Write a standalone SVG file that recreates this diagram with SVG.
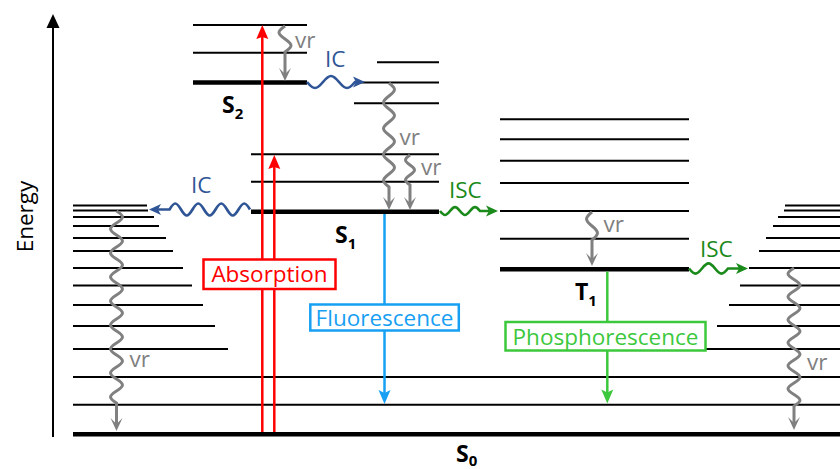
<svg xmlns="http://www.w3.org/2000/svg" width="840" height="469" viewBox="0 0 840 469">
<style>
.thin{stroke:#000;stroke-width:2;fill:none}
.thick{stroke:#000;stroke-width:4.5;fill:none}
.txt{font-family:"Open Sans","Liberation Sans",sans-serif;font-size:22.5px}
.state{font-family:"Open Sans","Liberation Sans",sans-serif;font-size:23px;font-weight:bold;fill:#000}
.sub{font-size:15px}
.vr{stroke:#808080;stroke-width:3;fill:none;marker-end:url(#mGray)}
.ic{stroke:#2f5597;stroke-width:2.7;fill:none;marker-end:url(#mIC)}
.isc{stroke:#1a8a1a;stroke-width:2.7;fill:none;marker-end:url(#mISC)}
.box{fill:#fff;stroke-width:2.5}
.boxt{font-family:"Open Sans","Liberation Sans",sans-serif;font-size:22.5px;text-anchor:middle}
.gray{fill:#808080}
.blue{fill:#2f5597}
.green{fill:#1a8a1a}
</style>
<defs>
<marker id="mGray" markerUnits="userSpaceOnUse" markerWidth="13" markerHeight="12" refX="6" refY="6" orient="auto" overflow="visible"><path d="M0,0 L13,6 L0,12 L6,6 Z" fill="#808080"/></marker>
<marker id="mIC" markerUnits="userSpaceOnUse" markerWidth="12" markerHeight="11" refX="3" refY="5.5" orient="auto" overflow="visible"><path d="M0,0 L12,5.5 L0,11 L3,5.5 Z" fill="#2f5597"/></marker>
<marker id="mISC" markerUnits="userSpaceOnUse" markerWidth="12" markerHeight="11" refX="3" refY="5.5" orient="auto" overflow="visible"><path d="M0,0 L12,5.5 L0,11 L3,5.5 Z" fill="#1a8a1a"/></marker>
<marker id="mRed" markerUnits="userSpaceOnUse" markerWidth="14" markerHeight="12" refX="4" refY="6" orient="auto" overflow="visible"><path d="M0,0 L14,6 L0,12 L2,6 Z" fill="#ff0000"/></marker>
<marker id="mBlue" markerUnits="userSpaceOnUse" markerWidth="14" markerHeight="12" refX="4" refY="6" orient="auto" overflow="visible"><path d="M0,0 L14,6 L0,12 L3,6 Z" fill="#17a0f3"/></marker>
<marker id="mGreen" markerUnits="userSpaceOnUse" markerWidth="14" markerHeight="12" refX="4" refY="6" orient="auto" overflow="visible"><path d="M0,0 L14,6 L0,12 L3,6 Z" fill="#3cc83c"/></marker>
<marker id="mAxis" markerUnits="userSpaceOnUse" markerWidth="14" markerHeight="13" refX="2" refY="6.5" orient="auto" overflow="visible"><path d="M0,0 L14,6.5 L0,13 Z" fill="#000"/></marker>
</defs>
<rect width="840" height="469" fill="#fff"/>

<g id="axis">
<path d="M53,437 L53,26" stroke="#000" stroke-width="2" fill="none" marker-end="url(#mAxis)"/>
<text class="txt" x="33" y="216.5" font-size="22" text-anchor="middle" transform="rotate(-90 33 216.5)">Energy</text>
</g>

<g id="S0">
<line class="thick" x1="73" y1="434.3" x2="840" y2="434.3"/>
<line class="thin" x1="73" y1="377" x2="840" y2="377"/>
<line class="thin" x1="73" y1="404.7" x2="840" y2="404.7"/>
<line class="thin" x1="73" y1="205.5" x2="147" y2="205.5"/>
<line class="thin" x1="73" y1="210.5" x2="148" y2="210.5"/>
<line class="thin" x1="73" y1="217" x2="154" y2="217"/>
<line class="thin" x1="73" y1="226" x2="159" y2="226"/>
<line class="thin" x1="73" y1="238" x2="166" y2="238"/>
<line class="thin" x1="73" y1="251" x2="173" y2="251"/>
<line class="thin" x1="73" y1="268" x2="183" y2="268"/>
<line class="thin" x1="73" y1="285.5" x2="192" y2="285.5"/>
<line class="thin" x1="73" y1="305" x2="203" y2="305"/>
<line class="thin" x1="73" y1="326" x2="215" y2="326"/>
<line class="thin" x1="73" y1="349" x2="228" y2="349"/>
<line class="thin" x1="785" y1="205.5" x2="840" y2="205.5"/>
<line class="thin" x1="784" y1="210.5" x2="840" y2="210.5"/>
<line class="thin" x1="778" y1="217" x2="840" y2="217"/>
<line class="thin" x1="773" y1="226" x2="840" y2="226"/>
<line class="thin" x1="766" y1="238" x2="840" y2="238"/>
<line class="thin" x1="759" y1="251" x2="840" y2="251"/>
<line class="thin" x1="749" y1="268" x2="840" y2="268"/>
<line class="thin" x1="740" y1="285.5" x2="840" y2="285.5"/>
<line class="thin" x1="729" y1="305" x2="840" y2="305"/>
<line class="thin" x1="717" y1="326" x2="840" y2="326"/>
<line class="thin" x1="704" y1="349" x2="840" y2="349"/>
<text class="state" x="456" y="462">S<tspan class="sub" dy="4">0</tspan></text>
</g>

<g id="S2">
<line class="thin" x1="193" y1="25" x2="307" y2="25"/>
<line class="thin" x1="193" y1="52.7" x2="307" y2="52.7"/>
<line class="thick" x1="193" y1="82.5" x2="307" y2="82.5"/>
<text class="state" x="222" y="113">S<tspan class="sub" dy="6">2</tspan></text>
</g>

<g id="S1">
<line class="thin" x1="377" y1="62.3" x2="439" y2="62.3"/>
<line class="thin" x1="360" y1="82.5" x2="439" y2="82.5"/>
<line class="thin" x1="354" y1="103.3" x2="439" y2="103.3"/>
<line class="thin" x1="251" y1="154.3" x2="439" y2="154.3"/>
<line class="thin" x1="251" y1="181.7" x2="439" y2="181.7"/>
<line class="thick" x1="251" y1="211.7" x2="439" y2="211.7"/>
<text class="state" x="335" y="242.5">S<tspan class="sub" dy="6.5">1</tspan></text>
</g>

<g id="T1">
<line class="thin" x1="500" y1="119.3" x2="689" y2="119.3"/>
<line class="thin" x1="500" y1="139.3" x2="689" y2="139.3"/>
<line class="thin" x1="500" y1="160.7" x2="689" y2="160.7"/>
<line class="thin" x1="500" y1="183" x2="689" y2="183"/>
<line class="thin" x1="500" y1="211" x2="689" y2="211"/>
<line class="thin" x1="500" y1="238.7" x2="689" y2="238.7"/>
<line class="thick" x1="500" y1="269.3" x2="689" y2="269.3"/>
<text class="state" x="575" y="299.5">T<tspan class="sub" dy="6">1</tspan></text>
</g>

<g id="connectors">
<path d="M262.3,432 L262.3,35" stroke="#ff0000" stroke-width="2.5" fill="none" marker-end="url(#mRed)"/>
<path d="M274.3,432 L274.3,165" stroke="#ff0000" stroke-width="2.5" fill="none" marker-end="url(#mRed)"/>
<path d="M384.5,214 L384.5,394" stroke="#17a0f3" stroke-width="2.5" fill="none" marker-end="url(#mBlue)"/>
<path d="M607.3,271.5 L607.3,393.5" stroke="#3cc83c" stroke-width="2.5" fill="none" marker-end="url(#mGreen)"/>

<path class="vr" d="M285,26 c -8,5.5 -8,7.5 0,13 s 8,7.5 0,13 L285,74"/>
<path class="vr" d="M389,83 c 7.3,5.5 7.3,7.5 0,13 s -7.3,7.5 0,13 s 7.3,7.5 0,13 s -7.3,7.5 0,13 s 7.3,7.5 0,13 s -7.3,7.5 0,13 s 7.3,7.5 0,13 s -7.3,7.5 0,13 L389,203"/>
<path class="vr" d="M410,155 c -6,4.2 -6,5.8 0,10 s 6,5.8 0,10 s -6,5.8 0,10 L410,203"/>
<path class="vr" d="M592,212 c -7.3,5.9 -7.3,8.1 0,14 s 7.3,8.1 0,14 L592,259"/>
<path class="vr" d="M116.5,211 c 8,5 8,7 0,12 s -8,7 0,12 s 8,7 0,12 s -8,7 0,12 s 8,7 0,12 s -8,7 0,12 s 8,7 0,12 s -8,7 0,12 s 8,7 0,12 s -8,7 0,12 s 8,7 0,12 s -8,7 0,12 s 8,7 0,12 s -8,7 0,12 s 8,7 0,12 s -8,7 0,12 L116.5,424"/>
<path class="vr" d="M794,268 c -8,4.8 -8,6.7 0,11.5 s 8,6.7 0,11.5 s -8,6.7 0,11.5 s 8,6.7 0,11.5 s -8,6.7 0,11.5 s 8,6.7 0,11.5 s -8,6.7 0,11.5 s 8,6.7 0,11.5 s -8,6.7 0,11.5 s 8,6.7 0,11.5 s -8,6.7 0,11.5 s 8,6.7 0,11.5 L794,423"/>

<path class="ic" d="M307,82 c 6.7,8 9.3,8 16,0 s 9.3,-8 16,0 s 9.3,8 16,0 L356,82"/>
<path class="ic" d="M250,209.5 c -4.8,-8 -6.7,-8 -11.5,0 s -6.7,8 -11.5,0 s -6.7,-8 -11.5,0 s -6.7,8 -11.5,0 s -6.7,-8 -11.5,0 s -6.7,8 -11.5,0 s -6.7,-8 -11.5,0 L158,209.5"/>
<path class="isc" d="M440,211 c 4.2,5.3 5.8,5.3 10,0 s 5.8,-5.3 10,0 s 5.8,5.3 10,0 s 5.8,-5.3 10,0 L489,211"/>
<path class="isc" d="M689,268.5 c 5.5,6.7 7.5,6.7 13,0 s 7.5,-6.7 13,0 s 7.5,6.7 13,0 L739,268.5"/>

<text class="txt gray" x="295" y="48.3">vr</text>
<text class="txt gray" x="399.5" y="145">vr</text>
<text class="txt gray" x="421" y="175">vr</text>
<text class="txt gray" x="603.5" y="231.7">vr</text>
<text class="txt gray" x="129.5" y="366.7">vr</text>
<text class="txt gray" x="807" y="370">vr</text>
<text class="txt blue" x="325" y="66.7">IC</text>
<text class="txt blue" x="191" y="193.3">IC</text>
<text class="txt green" x="449" y="198.3">ISC</text>
<text class="txt green" x="700" y="256.7">ISC</text>
</g>

<g id="absorption">
<rect class="box" x="203.5" y="259.5" width="132" height="29.5" stroke="#ff0000"/>
<text class="boxt" x="269.5" y="281.5" fill="#ff0000">Absorption</text>
</g>
<g id="fluorescence">
<rect class="box" x="310.3" y="304.5" width="148.5" height="26" stroke="#17a0f3"/>
<text class="boxt" x="384.5" y="326" fill="#17a0f3">Fluorescence</text>
</g>
<g id="phosphorescence">
<rect class="box" x="505.5" y="322" width="200" height="28.5" stroke="#3cc83c"/>
<text class="boxt" x="605.5" y="345" fill="#3cc83c">Phosphorescence</text>
</g>
</svg>
